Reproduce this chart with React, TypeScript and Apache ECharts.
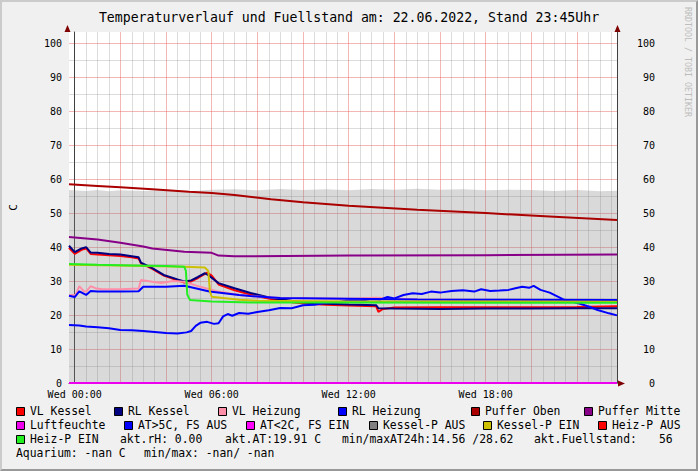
import { useEffect, useRef } from 'react';
import * as echarts from 'echarts';

type Pt = [number, number];

// ---------- texts ----------
const TITLE = 'Temperaturverlauf und Fuellstand am: 22.06.2022, Stand 23:45Uhr';
const Y_NAME = 'C';
const WATERMARK = 'RRDTOOL / TOBI OETIKER';
const DAY_NAME = 'Wed';

// ---------- axes ----------
const X_MIN = -0.25; // 21.06. 23:45 (hours relative to 22.06. 00:00)
const X_MAX = 23.75; // 22.06. 23:45
const X_TICK = 0.25;
const X_LABEL_HOURS = [0, 6, 12, 18];
const Y_MIN = 0;
const Y_MAX = 103.3;
const Y_TICK = 5;
const Y_LABEL_STEP = 10;

// ---------- series values [hour, value] ----------
const fuellstand: Pt[] = [
  [-0.25, 56.8], [0.5, 56.5], [1, 56.8], [1.5, 56.4], [2, 56.7], [3, 56.5], [4, 56.8], [5, 56.4],
  [6, 56.9], [7, 57.0], [8, 56.7], [9, 57.1], [10, 56.8], [11, 57.0], [12, 56.7], [13, 57.1],
  [14, 56.9], [15, 57.2], [16, 56.9], [17, 57.0], [18, 56.7], [19, 56.9], [20, 56.8], [21, 56.5],
  [22, 56.8], [23, 56.4], [23.75, 56.6],
];

const vlKessel: Pt[] = [
  [-0.25, 39.8], [0.0, 38.0], [0.3, 39.2], [0.5, 39.6], [0.7, 38.0], [1.0, 37.8], [1.5, 37.6],
  [2.0, 37.4], [2.5, 37.0], [2.8, 36.6], [2.9, 35.2], [3.4, 33.6], [3.9, 31.6], [4.5, 30.2],
  [4.8, 29.6], [5.1, 29.9], [5.4, 30.9], [5.8, 32.5], [6.0, 31.6], [6.3, 29.0], [7.0, 27.3],
  [7.7, 26.0], [8.6, 24.7], [9.5, 23.8], [10.2, 23.3], [11, 23.0], [12, 22.8], [13.2, 22.6],
  [13.3, 20.9], [13.5, 21.8], [14, 22.2], [16, 22.3], [18, 22.3], [20, 22.3], [22, 22.4], [23.75, 22.6],
];

const rlKessel: Pt[] = [
  [-0.25, 40.4], [0.0, 38.5], [0.3, 39.6], [0.5, 40.0], [0.7, 38.4], [1.0, 38.3], [1.5, 38.0],
  [2.0, 37.8], [2.5, 37.3], [2.8, 37.0], [2.9, 35.4], [3.4, 33.8], [3.9, 31.8], [4.5, 30.5],
  [4.8, 29.9], [5.1, 30.2], [5.4, 31.2], [5.7, 32.3], [5.9, 31.5], [6.3, 29.4], [7.0, 27.9],
  [7.7, 26.5], [8.6, 25.0], [9.5, 24.2], [10.2, 23.6], [11, 23.3], [12, 23.1], [13.2, 22.9],
  [13.3, 22.0], [14, 21.9], [16, 21.8], [18, 21.9], [20, 21.9], [22, 22.0], [23.75, 22.0],
];

const vlHeizung: Pt[] = [
  [-0.25, 25.8], [0.05, 26.0], [0.2, 28.5], [0.4, 27.0], [0.5, 26.9], [0.7, 28.5], [0.9, 27.9],
  [1.2, 27.6], [2.0, 27.6], [2.8, 27.8], [2.9, 30.3], [3.4, 29.8], [3.8, 29.4], [4.3, 30.0],
  [4.8, 29.8], [5.5, 28.3], [6.3, 26.9], [7.2, 25.9], [7.7, 25.6], [9.0, 25.0], [12, 24.8],
  [13.2, 25.1], [15, 24.6], [18, 24.4], [23.75, 24.2],
];

const rlHeizung: Pt[] = [
  [-0.25, 25.7], [0.0, 25.3], [0.2, 27.0], [0.5, 25.9], [0.7, 27.1], [1.0, 26.9], [2.0, 26.9],
  [2.8, 27.0], [3.0, 28.3], [4.0, 28.3], [4.8, 28.6], [5.0, 28.3], [5.9, 26.9], [7.2, 25.9],
  [7.7, 25.6], [9.0, 25.0], [12, 24.8], [15, 24.6], [18, 24.5], [23.75, 24.4],
];

const pufferOben: Pt[] = [
  [-0.25, 58.5], [1, 58.0], [2, 57.6], [3.4, 57.0], [5, 56.3], [6, 55.9], [7, 55.3], [8.6, 54.1],
  [10, 53.2], [12, 52.2], [15, 51.0], [18, 50.0], [20.8, 49.0], [23.75, 48.0],
];

const pufferMitte: Pt[] = [
  [-0.25, 43.0], [1, 42.2], [2, 41.3], [3, 40.2], [3.4, 39.6], [4.8, 38.6], [6.0, 38.3],
  [6.3, 37.5], [7, 37.3], [12, 37.5], [18, 37.6], [23.75, 37.8],
];

const luftfeuchte: Pt[] = [
  [-0.25, 0], [23.75, 0],
];

const aussenTemp: Pt[] = [
  [-0.25, 17.1], [0.2, 16.9], [0.5, 16.6], [1.0, 16.4], [1.5, 16.1], [2.0, 15.6], [2.5, 15.5],
  [3.0, 15.3], [3.5, 15.0], [4.0, 14.7], [4.5, 14.6], [4.9, 14.9], [5.1, 15.3], [5.3, 16.8],
  [5.5, 17.7], [5.8, 18.0], [6.1, 17.4], [6.3, 17.6], [6.5, 19.6], [6.7, 20.3], [6.9, 19.8],
  [7.2, 20.6], [7.6, 20.4], [8.0, 20.9], [8.5, 21.4], [9.0, 22.1], [9.5, 22.0], [10.0, 22.9],
  [10.5, 23.0], [11.0, 23.6], [11.5, 23.8], [12.0, 24.3], [12.5, 24.2], [13.0, 24.7], [13.4, 24.6],
  [13.7, 25.3], [14.0, 24.9], [14.4, 25.9], [14.8, 26.4], [15.2, 26.2], [15.6, 26.9], [16.0, 26.6],
  [16.5, 27.1], [17.0, 27.3], [17.5, 26.9], [17.8, 27.6], [18.2, 27.1], [18.6, 27.2], [19.0, 27.4],
  [19.3, 27.9], [19.6, 28.3], [19.9, 28.0], [20.1, 28.6], [20.4, 27.4], [20.8, 26.6], [21.4, 24.6],
  [22.1, 23.4], [22.6, 22.3], [22.9, 21.5], [23.4, 20.5], [23.75, 19.9],
];

const kesselPEin: Pt[] = [
  [-0.25, 34.8], [2, 34.6], [4.8, 34.2], [5.7, 34.0], [5.85, 33.0], [5.92, 27.0], [6.0, 25.4],
  [6.5, 25.0], [7.2, 24.5], [8, 24.2], [12, 24.0], [18, 24.0], [23.75, 23.9],
];

const heizPEin: Pt[] = [
  [-0.25, 35.0], [1, 34.8], [2.5, 34.6], [4.0, 34.4], [4.8, 34.2], [4.87, 33.0], [4.93, 26.0],
  [5.05, 24.4], [6, 24.0], [7.7, 23.7], [12, 23.7], [18, 23.6], [23.75, 23.6],
];

// ---------- legend / info texts ----------
const LEGEND_ROW1 = ['VL Kessel', 'RL Kessel', 'VL Heizung', 'RL Heizung', 'Puffer Oben', 'Puffer Mitte'];
const LEGEND_ROW2 = ['Luftfeuchte', 'AT>5C, FS AUS', 'AT<2C, FS EIN', 'Kessel-P AUS', 'Kessel-P EIN', 'Heiz-P AUS'];
const LEGEND_ROW3 = ['Heiz-P EIN'];
const INFO_ROW3 = ['akt.rH: 0.00', 'akt.AT:19.91 C', 'min/maxAT24h:14.56 /28.62', 'akt.Fuellstand:', '56'];
const INFO_ROW4 = ['Aquarium: -nan C', 'min/max: -nan/ -nan'];

// ---------- styles ----------
const COLORS: Record<string, string> = {
  'VL Kessel': '#FF0000',
  'RL Kessel': '#000080',
  'VL Heizung': '#FF8FA8',
  'RL Heizung': '#0000FF',
  'Puffer Oben': '#AA0000',
  'Puffer Mitte': '#880088',
  'Luftfeuchte': '#EE00EE',
  'AT>5C, FS AUS': '#0000FF',
  'AT<2C, FS EIN': '#FF00FF',
  'Kessel-P AUS': '#808080',
  'Kessel-P EIN': '#CCC000',
  'Heiz-P AUS': '#FF0000',
  'Heiz-P EIN': '#22EE22',
};
const FONT = '"DejaVu Sans Mono", "Liberation Mono", monospace';
const MAJOR = 'rgba(230,80,80,0.42)';
const MINOR = 'rgba(140,140,140,0.30)';
const NONE = 'rgba(0,0,0,0)';
const AXIS_COLOR = '#404040';
const ARROW_COLOR = '#7F0000';

const LEGEND_X_ROW1 = [16, 114, 218, 338, 471, 584];
const LEGEND_X_ROW2 = [16, 124, 246, 369, 483, 598];
const LEGEND_X_ROW3 = [16];
const INFO_X_ROW3 = [120, 225, 342, 534, 659];
const INFO_X_ROW4 = [16, 144];
const ROW_Y = [411, 425, 439, 453];

const isInt = (v: number) => Math.abs(v - Math.round(v)) < 1e-6;

function legendItems(names: string[], xs: number[], y: number) {
  const out: any[] = [];
  names.forEach((n, i) => {
    out.push({
      type: 'rect',
      shape: { x: xs[i] + 0.5, y: y - 3.5, width: 8, height: 8 },
      style: { fill: COLORS[n], stroke: '#000', lineWidth: 1 },
      silent: true,
    });
    out.push({
      type: 'text',
      x: xs[i] + 14,
      y,
      style: { text: n, fill: '#000', fontSize: 11.4, fontFamily: FONT, align: 'left', verticalAlign: 'middle' },
      silent: true,
    });
  });
  return out;
}

function infoItems(texts: string[], xs: number[], y: number) {
  return texts.map((t, i) => ({
    type: 'text',
    x: xs[i],
    y,
    style: { text: t, fill: '#000', fontSize: 11.4, fontFamily: FONT, align: 'left', verticalAlign: 'middle' },
    silent: true,
  }));
}

function lineSeries(name: string, data: Pt[]) {
  return {
    name,
    type: 'line',
    data,
    showSymbol: false,
    symbol: 'none',
    smooth: false,
    lineStyle: { color: COLORS[name], width: 2 },
    itemStyle: { color: COLORS[name] },
    silent: true,
  };
}

export default function App() {
  const ref = useRef<HTMLDivElement>(null);

  useEffect(() => {
    document.body.style.margin = '0';
    if (!ref.current) return;
    const chart = echarts.init(ref.current, undefined, { renderer: 'svg' });

    const xFormatter = (v: number) => {
      const r = Math.round(v);
      if (isInt(v) && X_LABEL_HOURS.includes(r)) return `${DAY_NAME} ${String(r).padStart(2, '0')}:00`;
      return '';
    };
    const yFormatter = (v: number) => {
      const r = Math.round(v);
      if (isInt(v) && r % Y_LABEL_STEP === 0) return String(r);
      return '';
    };

    const yBase = {
      type: 'value',
      min: Y_MIN,
      max: Y_MAX,
      interval: Y_TICK,
      axisTick: { show: false },
      axisLine: { show: true, lineStyle: { color: AXIS_COLOR, width: 1 } },
    };

    chart.setOption({
      animation: false,
      backgroundColor: '#F0F0F0',
      grid: { left: 67, right: 81, top: 32, bottom: 88, show: true, backgroundColor: '#FFFFFF', borderWidth: 0 },
      xAxis: {
        type: 'value',
        min: X_MIN,
        max: X_MAX,
        interval: X_TICK,
        axisLine: { show: true, onZero: false, lineStyle: { color: AXIS_COLOR, width: 1 } },
        axisTick: { show: false },
        axisLabel: { formatter: xFormatter, color: '#000', fontFamily: FONT, fontSize: 10, margin: 6 },
        splitLine: { show: true, lineStyle: { width: 1, color: [NONE, MAJOR, NONE, MINOR, NONE, MINOR, NONE, MINOR] } },
      },
      yAxis: [
        {
          ...yBase,
          position: 'left',
          name: Y_NAME,
          nameLocation: 'middle',
          nameRotate: 90,
          nameGap: 50,
          nameTextStyle: { color: '#000', fontFamily: FONT, fontSize: 11 },
          axisLabel: { formatter: yFormatter, color: '#000', fontFamily: FONT, fontSize: 10, margin: 7 },
          splitLine: { show: true, showMaxLine: false, lineStyle: { width: 1, color: [MAJOR, MINOR] } },
        },
        {
          ...yBase,
          position: 'right',
          axisLabel: { formatter: yFormatter, color: '#000', fontFamily: FONT, fontSize: 10, margin: 38, align: 'right' },
          splitLine: { show: false },
        },
      ],
      series: [
        {
          name: 'Fuellstand',
          type: 'line',
          data: fuellstand,
          showSymbol: false,
          symbol: 'none',
          lineStyle: { width: 0, color: 'rgba(0,0,0,0)' },
          areaStyle: { color: 'rgba(128,128,128,0.30)', opacity: 1 },
          silent: true,
        },
        lineSeries('VL Kessel', vlKessel),
        lineSeries('RL Kessel', rlKessel),
        lineSeries('VL Heizung', vlHeizung),
        lineSeries('RL Heizung', rlHeizung),
        lineSeries('Puffer Oben', pufferOben),
        lineSeries('Puffer Mitte', pufferMitte),
        lineSeries('Luftfeuchte', luftfeuchte),
        lineSeries('AT>5C, FS AUS', aussenTemp),
        lineSeries('Kessel-P EIN', kesselPEin),
        lineSeries('Heiz-P EIN', heizPEin),
      ],
      graphic: [
        {
          type: 'text',
          x: 349,
          y: 17,
          style: { text: TITLE, fill: '#000', fontSize: 13.2, fontFamily: FONT, align: 'center', verticalAlign: 'middle' },
          silent: true,
        },
        {
          type: 'text',
          x: 688,
          y: 62,
          rotation: -Math.PI / 2,
          style: { text: WATERMARK, fill: '#BDBDBD', fontSize: 8.3, fontFamily: FONT, align: 'center', verticalAlign: 'middle' },
          silent: true,
        },
        { type: 'polygon', shape: { points: [[67.5, 25], [64.5, 32], [70.5, 32]] }, style: { fill: ARROW_COLOR }, silent: true },
        { type: 'polygon', shape: { points: [[617.5, 25], [614.5, 32], [620.5, 32]] }, style: { fill: ARROW_COLOR }, silent: true },
        { type: 'polygon', shape: { points: [[625, 383.5], [618, 380.5], [618, 386.5]] }, style: { fill: ARROW_COLOR }, silent: true },
        ...legendItems(LEGEND_ROW1, LEGEND_X_ROW1, ROW_Y[0]),
        ...legendItems(LEGEND_ROW2, LEGEND_X_ROW2, ROW_Y[1]),
        ...legendItems(LEGEND_ROW3, LEGEND_X_ROW3, ROW_Y[2]),
        ...infoItems(INFO_ROW3, INFO_X_ROW3, ROW_Y[2]),
        ...infoItems(INFO_ROW4, INFO_X_ROW4, ROW_Y[3]),
      ],
    });

    return () => chart.dispose();
  }, []);

  return (
    <div style={{ position: 'relative', width: 698, height: 471 }}>
      <div ref={ref} style={{ position: 'absolute', left: 0, top: 0, width: 698, height: 471 }} />
      <div
        style={{
          position: 'absolute',
          left: 0,
          top: 0,
          width: 698,
          height: 471,
          boxSizing: 'border-box',
          borderTop: '2px solid #CBCBCB',
          borderLeft: '2px solid #CBCBCB',
          borderBottom: '2px solid #999999',
          borderRight: '2px solid #999999',
          pointerEvents: 'none',
        }}
      />
    </div>
  );
}
